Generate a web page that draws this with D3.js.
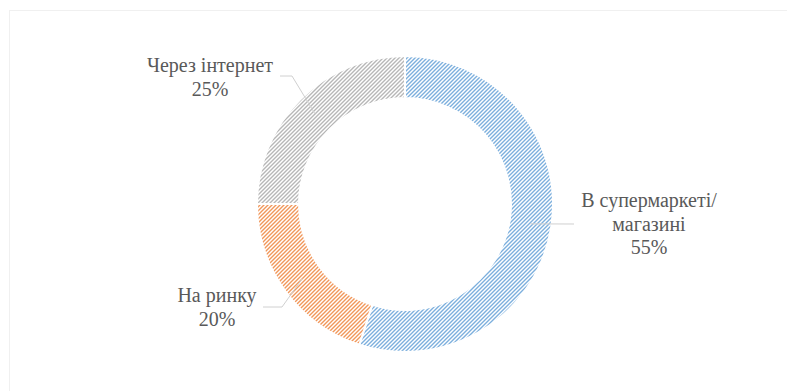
<!DOCTYPE html>
<html>
<head>
<meta charset="utf-8">
<script src="https://cdn.jsdelivr.net/npm/d3@7"></script>
<style>
  html, body { margin: 0; padding: 0; background: #ffffff; }
  svg { display: block; }
</style>
</head>
<body>
<svg id="chart" width="787" height="391"></svg>
<script>
// Where people buy: share of purchases by channel
const categories = [["В супермаркеті/", "магазині"], ["На ринку"], ["Через інтернет"]];
const shares = [55, 20, 25];
const percentLabels = ["55%", "20%", "25%"];
const seriesColors = ["#5B9BD5", "#ED7D31", "#A5A5A5"];

const width = 787, height = 391;
const cx = 405, cy = 204;
const outerR = 148, innerR = 106;

const svg = d3.select("#chart");

// faint chart-area frame
svg.append("rect")
  .attr("x", 9.5).attr("y", 10.5)
  .attr("width", width).attr("height", height)
  .attr("fill", "none")
  .attr("stroke", "#f0f0f0")
  .attr("stroke-width", 1);

// upward-diagonal hatch fill, one pattern per series colour
const defs = svg.append("defs");
seriesColors.forEach((c, i) => {
  const p = defs.append("pattern")
    .attr("id", "hatch" + i)
    .attr("patternUnits", "userSpaceOnUse")
    .attr("width", 4).attr("height", 4);
  p.append("rect").attr("width", 4).attr("height", 4).attr("fill", "#ffffff");
  p.append("path")
    .attr("d", "M-1,1 L1,-1 M0,4 L4,0 M3,5 L5,3")
    .attr("stroke", c)
    .attr("stroke-width", 1.4)
    .attr("stroke-opacity", 0.8);
});

const pie = d3.pie().sort(null).value(d => d)(shares);
const arc = d3.arc().innerRadius(innerR).outerRadius(outerR);
const midArc = d3.arc().innerRadius((innerR + outerR) / 2).outerRadius((innerR + outerR) / 2);

const g = svg.append("g").attr("transform", `translate(${cx},${cy})`);

g.selectAll("path.slice")
  .data(pie)
  .join("path")
  .attr("class", "slice")
  .attr("d", arc)
  .attr("fill", (d, i) => `url(#hatch${i})`)
  .attr("stroke", "#ffffff")
  .attr("stroke-width", 2);

// label layout: text centre x offset, first baseline offset, leader elbow and end
const layout = [
  { tx: 244, ty: 3, elbow: null, end: [169, 20] },
  { tx: -188, ty: 98, elbow: [-123, 103], end: [-142, 103] },
  { tx: -195, ty: -132, elbow: [-113, -128], end: [-125, -128] }
];

const lineH = 23.5;

pie.forEach((d, i) => {
  const c = midArc.centroid(d);
  const L = layout[i];
  const pts = [c];
  if (L.elbow) pts.push(L.elbow);
  pts.push(L.end);
  g.append("path")
    .attr("d", d3.line()(pts))
    .attr("fill", "none")
    .attr("stroke", "#d0d0d0")
    .attr("stroke-width", 1);

  const lines = categories[i].concat([percentLabels[i]]);
  lines.forEach((s, k) => {
    g.append("text")
      .style("font-family", '"Liberation Serif"')
      .style("font-size", "20px")
      .style("fill", "#595959")
      .attr("text-anchor", "middle")
      .attr("x", L.tx)
      .attr("y", L.ty + k * lineH)
      .text(s);
  });
});
</script>
</body>
</html>
